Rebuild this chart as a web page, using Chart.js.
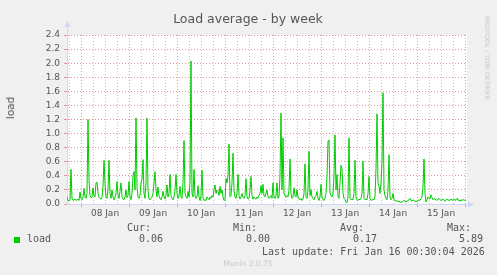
<!DOCTYPE html>
<html><head><meta charset="utf-8">
<script src="https://cdn.jsdelivr.net/npm/chart.js@4/dist/chart.umd.min.js"></script>
<style>
html,body{margin:0;padding:0;background:#f0f0f0;}
#wrap{position:relative;width:497px;height:275px;overflow:hidden;font-family:"DejaVu Sans",sans-serif;color:#555;}
canvas{position:absolute;left:0;top:0;}
.t{position:absolute;white-space:pre;}
.m{font-family:"DejaVu Sans Mono",monospace;font-size:10px;line-height:12px;color:#555;}
</style></head><body>
<div id="wrap">
<canvas id="c" width="497" height="275"></canvas>
</div>
<script>
// ---- data ----
const chartTitle = 'Load average - by week';
const yAxisTitle = 'load';
const seriesName = 'load';
const dayLabels = ['08 Jan','09 Jan','10 Jan','11 Jan','12 Jan','13 Jan','14 Jan','15 Jan'];
const yTickValues = [0,0.2,0.4,0.6,0.8,1.0,1.2,1.4,1.6,1.8,2.0,2.2,2.4];
const statLabels = ['Cur:','Min:','Avg:','Max:'];
const statValues = ['0.06','0.00','0.17','5.89'];
const lastUpdate = 'Last update: Fri Jan 16 00:30:04 2026';
const footer = 'Munin 2.0.75';
const sideText = 'RRDTOOL / TOBI OETIKER';
// one value per 30 minutes, starting Jan 7 17:00
const loadValues = [
0.10,0.05,0.04,0.06,0.49,0.08,0.05,0.06,0.07,0.05,0.06,0.07,0.05,0.17,0.08,0.06,0.09,0.22,0.10,0.08,
0.15,1.20,0.35,0.12,0.09,0.10,0.23,0.12,0.10,0.30,0.31,0.15,0.10,0.08,0.07,0.09,0.25,0.62,0.30,0.10,
0.08,0.20,0.62,0.15,0.08,0.20,0.10,0.06,0.09,0.15,0.32,0.12,0.08,0.18,0.30,0.10,0.07,0.06,0.10,0.20,
0.09,0.12,0.32,0.10,0.06,0.15,0.40,0.46,0.20,1.22,0.25,0.10,0.08,0.12,0.30,0.35,0.63,0.15,0.08,0.30,
1.22,0.20,0.07,0.06,0.08,0.10,0.15,0.30,0.46,0.20,0.10,0.24,0.12,0.08,0.06,0.10,0.18,0.10,0.07,0.12,
0.27,0.10,0.15,0.42,0.12,0.08,0.06,0.10,0.20,0.42,0.15,0.08,0.12,0.25,0.10,0.08,0.30,0.90,0.15,0.10,
0.08,0.18,0.10,0.30,2.03,0.15,0.10,0.49,0.12,0.08,0.10,0.26,0.10,0.05,0.12,0.48,0.08,0.05,0.06,0.05,
0.10,0.08,0.06,0.10,0.08,0.12,0.10,0.20,0.27,0.15,0.20,0.18,0.12,0.25,0.15,0.20,0.10,0.05,0.06,0.36,
0.30,0.40,0.85,0.10,0.12,0.30,0.72,0.20,0.10,0.08,0.15,0.42,0.12,0.07,0.10,0.15,0.10,0.08,0.12,0.36,
0.10,0.07,0.08,0.20,0.39,0.12,0.07,0.10,0.08,0.07,0.10,0.08,0.12,0.15,0.26,0.15,0.28,0.12,0.10,0.15,
0.20,0.10,0.08,0.10,0.12,0.08,0.30,0.10,0.08,0.12,0.30,0.08,0.10,0.40,1.29,0.20,0.94,0.15,0.12,0.10,
0.12,0.10,0.20,0.64,0.15,0.08,0.10,0.23,0.12,0.10,0.20,0.10,0.07,0.06,0.08,0.05,0.07,0.15,0.57,0.10,
0.08,0.20,0.75,0.12,0.20,0.10,0.08,0.06,0.10,0.12,0.18,0.08,0.05,0.10,0.28,0.10,0.07,0.05,0.08,0.15,
0.40,0.89,0.91,0.15,0.12,0.10,0.15,0.40,0.98,0.20,0.42,0.10,0.08,0.30,0.55,0.50,0.15,0.08,0.06,0.03,
0.02,0.10,0.94,0.08,0.06,0.07,0.06,0.15,0.62,0.10,0.06,0.05,0.07,0.06,0.08,0.15,0.61,0.08,0.06,0.07,
0.06,0.15,0.39,0.07,0.06,0.05,0.07,0.06,0.10,0.50,1.28,0.30,0.25,0.15,0.30,0.60,1.58,0.20,0.12,0.08,
0.06,0.20,0.70,0.10,0.06,0.08,0.15,0.06,0.05,0.04,0.05,0.03,0.04,0.03,0.02,0.03,0.04,0.05,0.04,0.03,
0.04,0.05,0.06,0.08,0.05,0.04,0.06,0.05,0.04,0.03,0.04,0.05,0.06,0.05,0.08,0.10,0.25,0.64,0.15,0.03,
0.06,0.10,0.08,0.07,0.13,0.09,0.06,0.08,0.07,0.06,0.05,0.07,0.08,0.06,0.05,0.06,0.07,0.05,0.04,0.06,
0.07,0.05,0.06,0.05,0.07,0.06,0.05,0.07,0.05,0.06,0.08,0.05,0.06,0.04,0.06,0.05,0.06,0.06,0.05,0.06
];

// ---- layout / styles ----
const PLOT_LEFT = 67, PLOT_TOP = 35, PLOT_RIGHT = 467, PLOT_BOTTOM = 204;
const W = 497, H = 275;
const AXIS_COL = '#CFD6F8';
const MGRID = 'rgba(215,110,110,0.7)';
const GRID = 'rgba(150,150,150,0.6)';
const FONT_COL = '#555';
const FIRST_MIDNIGHT = 14, STEP6H = 12, DAY = 48, FIRST_NOON = 38;

const wrap = document.getElementById('wrap');
function addText(txt, cls, style){
  const d = document.createElement('div');
  d.className = 't ' + cls; d.textContent = txt;
  Object.assign(d.style, style); wrap.appendChild(d); return d;
}
addText(chartTitle, '', {left:'0px', width:'496px', textAlign:'center', top:'12px', fontSize:'12.5px', lineHeight:'14px', color:FONT_COL});
addText(yAxisTitle, '', {left:'10px', top:'108px', fontSize:'10.5px', lineHeight:'12px', color:FONT_COL, transform:'translate(-50%,-50%) rotate(-90deg)'});
addText(sideText, '', {left:'487px', top:'58px', fontSize:'6.5px', lineHeight:'8px', color:'#c8c8c8', transform:'translate(-50%,-50%) rotate(90deg)'});
const statLabelX = [127,233,340,447];
const statValueX = [139,246,353,459];
statLabels.forEach((s,i)=>addText(s,'m',{left:statLabelX[i]+'px', top:'222px'}));
statValues.forEach((s,i)=>addText(s,'m',{left:statValueX[i]+'px', top:'233px'}));
addText(seriesName,'m',{left:'27px', top:'233px'});
const sq = document.createElement('div');
Object.assign(sq.style,{position:'absolute',left:'14px',top:'237px',width:'6px',height:'6px',background:'#00cc00'});
wrap.appendChild(sq);
addText(lastUpdate,'m',{left:'262px', top:'246px'});
addText(footer,'',{left:'0px', width:'496px', textAlign:'center', top:'259px', fontSize:'7.5px', lineHeight:'10px', color:'#c8c8c8'});

const deco = {
  id:'deco',
  beforeDraw(chart){
    const {ctx, chartArea:a} = chart;
    ctx.save(); ctx.fillStyle = '#fff';
    ctx.fillRect(a.left, a.top, a.right - a.left, a.bottom - a.top);
    ctx.restore();
  },
  afterDraw(chart){
    const {ctx, chartArea:a} = chart;
    ctx.save();
    ctx.strokeStyle = AXIS_COL; ctx.fillStyle = AXIS_COL; ctx.lineWidth = 1;
    const lx = Math.round(a.left) + 0.5, by = Math.round(a.bottom) + 0.5;
    ctx.beginPath(); ctx.moveTo(lx, a.top); ctx.lineTo(lx, a.top - 8); ctx.stroke();
    ctx.beginPath(); ctx.moveTo(lx - 3, a.top - 8); ctx.lineTo(lx + 3, a.top - 8); ctx.lineTo(lx, a.top - 14); ctx.closePath(); ctx.fill();
    ctx.beginPath(); ctx.moveTo(a.right, by); ctx.lineTo(a.right + 1, by); ctx.stroke();
    ctx.beginPath(); ctx.moveTo(a.right + 1, by - 3); ctx.lineTo(a.right + 1, by + 3); ctx.lineTo(a.right + 7, by); ctx.closePath(); ctx.fill();
    ctx.restore();
  }
};

new Chart(document.getElementById('c'), {
  type:'line',
  data:{datasets:[{
    label:seriesName,
    data: loadValues.map((v,i)=>({x:i, y:v})),
    borderColor:'#00cc00', borderWidth:1, pointRadius:0, tension:0, fill:false
  }]},
  options:{
    responsive:false, animation:false, devicePixelRatio:1,
    layout:{padding:{left:0, top:PLOT_TOP, right:W-PLOT_RIGHT, bottom:H-PLOT_BOTTOM-20}},
    plugins:{legend:{display:false}, tooltip:{enabled:false}, title:{display:false}},
    scales:{
      x:{
        type:'linear', min:0, max:loadValues.length,
        afterFit(s){ s.height = 20; },
        afterBuildTicks(s){
          const t = [];
          for (let v = FIRST_MIDNIGHT - STEP6H; v <= loadValues.length; v += STEP6H) t.push({value:v});
          s.ticks = t;
        },
        ticks:{
          autoSkip:false, maxRotation:0, minRotation:0, padding:1, color:FONT_COL,
          font:{family:'DejaVu Sans', size:9},
          callback(v){
            const k = (v - FIRST_NOON) / DAY;
            return (Number.isInteger(k) && k >= 0 && k < dayLabels.length) ? dayLabels[k] : '';
          }
        },
        grid:{
          color(ctx){ return ((ctx.tick.value - FIRST_MIDNIGHT) % DAY === 0) ? MGRID : GRID; },
          tickColor(ctx){ return ((ctx.tick.value - FIRST_MIDNIGHT) % DAY === 0) ? MGRID : 'rgba(0,0,0,0)'; },
          lineWidth:1, tickLength:3, drawTicks:true
        },
        border:{display:true, color:AXIS_COL, width:1, dash:[1,2]}
      },
      y:{
        min:0, max:2.4,
        afterFit(s){ s.width = PLOT_LEFT; },
        afterBuildTicks(s){
          const t = [];
          for (let k = 0; k <= 24; k++) t.push({value:k/10});
          s.ticks = t;
        },
        ticks:{
          padding:4, color:FONT_COL, font:{family:'DejaVu Sans', size:9},
          callback(v){
            const k = Math.round(v*10);
            return yTickValues.some(y => Math.round(y*10) === k) ? (k/10).toFixed(1) : '';
          }
        },
        grid:{
          color(ctx){ return (Math.round(ctx.tick.value*10) % 2 === 0) ? MGRID : GRID; },
          tickColor(ctx){ return (Math.round(ctx.tick.value*10) % 2 === 0) ? MGRID : 'rgba(0,0,0,0)'; },
          lineWidth:1, tickLength:3
        },
        border:{display:true, color:AXIS_COL, width:1, dash:[1,2]}
      }
    }
  },
  plugins:[deco]
});
</script>
</body></html>
